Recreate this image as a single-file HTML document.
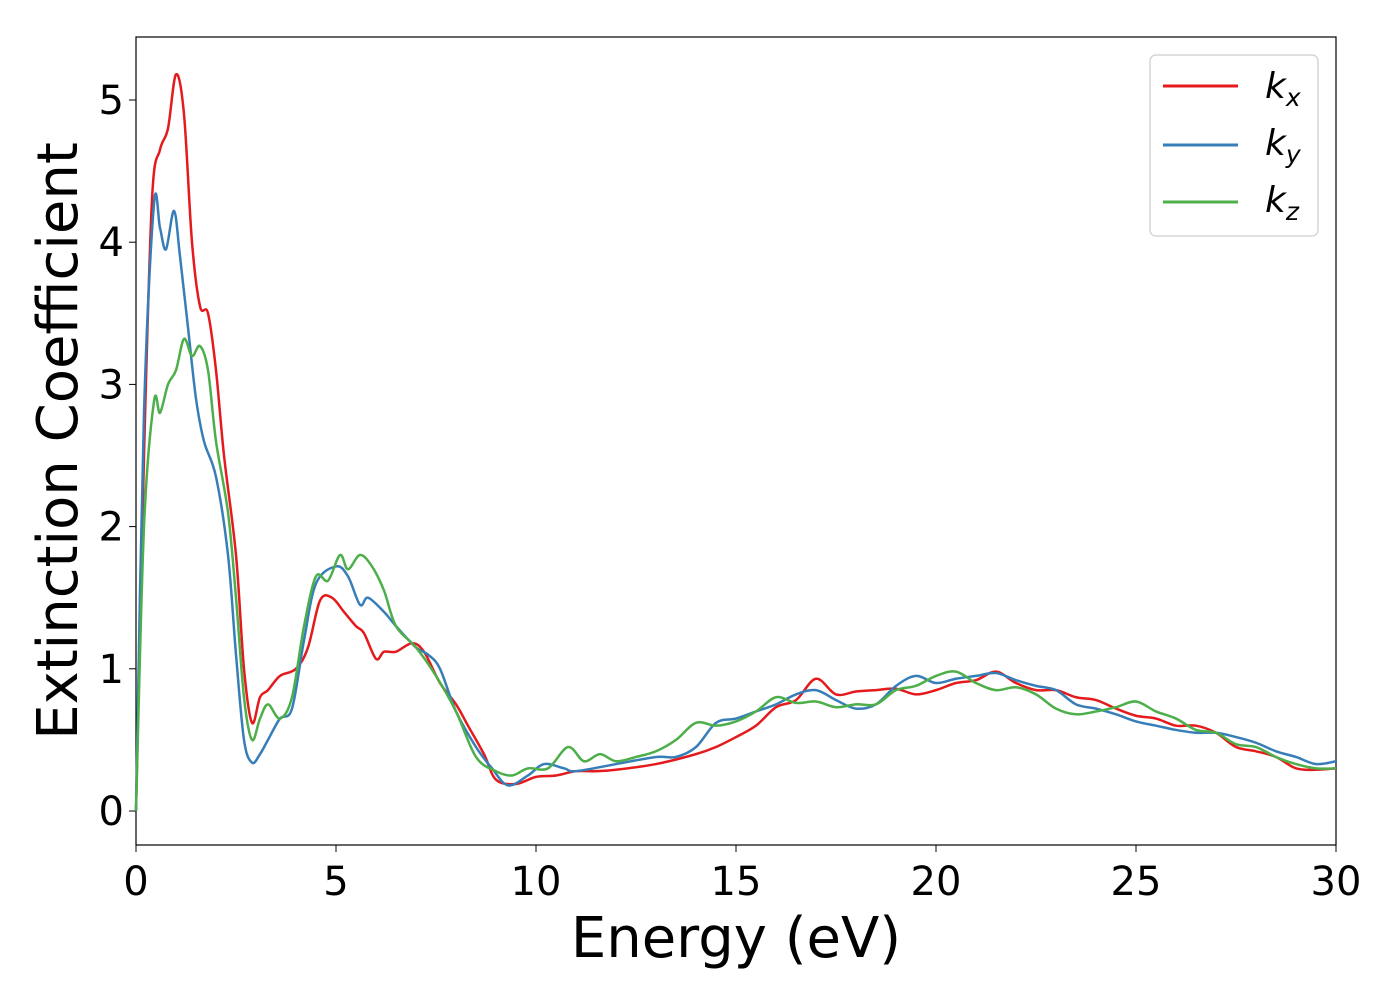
<!DOCTYPE html>
<html><head><meta charset="utf-8"><style>
body{margin:0;background:#fff}
svg{display:block;font-family:"DejaVu Sans","Liberation Sans",sans-serif}
</style></head><body>
<svg id="chart" width="1400" height="1000">
<rect x="136" y="37" width="1200" height="808" fill="#fff" stroke="#000" stroke-width="1.2"/>
<g id="ticks"></g>
<g id="lines"></g>
<text x="736" y="957" font-size="56" text-anchor="middle">Energy (eV)</text>
<text transform="translate(77,441) rotate(-90)" font-size="56" text-anchor="middle">Extinction Coefficient</text>
<g>
<rect x="1150" y="55" width="168" height="181" rx="6" fill="#fff" stroke="#ccc" stroke-width="1.2"/>
<line x1="1163" y1="86" x2="1238" y2="86" stroke="#e41a1c" stroke-width="3"/>
<text x="1265" y="98" font-size="36" font-style="italic">k<tspan font-size="25" dy="8">x</tspan></text>
<line x1="1163" y1="145" x2="1238" y2="145" stroke="#377eb8" stroke-width="3"/>
<text x="1265" y="155" font-size="36" font-style="italic">k<tspan font-size="25" dy="8">y</tspan></text>
<line x1="1163" y1="202" x2="1238" y2="202" stroke="#4daf4a" stroke-width="3"/>
<text x="1265" y="212" font-size="36" font-style="italic">k<tspan font-size="25" dy="8">z</tspan></text>
</g>
</svg>
<script>
const xTicks=[0,5,10,15,20,25,30];
const yTicks=[0,1,2,3,4,5];
const kxE=[0,0.2,0.4,0.6,0.8,1.0,1.2,1.4,1.6,1.8,2.0,2.2,2.5,2.7,2.9,3.1,3.3,3.6,4.0,4.3,4.6,4.9,5.2,5.5,5.7,6.0,6.2,6.5,6.9,7.2,7.6,8.0,8.3,8.7,9.0,9.5,10,10.5,11,11.5,12,13,14,14.5,15,15.5,16,16.5,17,17.5,18,18.5,19,19.5,20,20.5,21,21.5,22,22.5,23,23.5,24,24.5,25,25.5,26,26.5,27,27.5,28,28.5,29,29.5,30];
const kxV=[0,2.5,4.3,4.65,4.8,5.18,4.9,4.0,3.55,3.5,3.1,2.5,1.8,1.0,0.62,0.8,0.85,0.95,1.0,1.15,1.48,1.5,1.4,1.3,1.25,1.07,1.12,1.12,1.18,1.12,0.9,0.75,0.6,0.4,0.22,0.19,0.24,0.25,0.28,0.28,0.29,0.33,0.4,0.45,0.52,0.6,0.73,0.78,0.93,0.82,0.84,0.85,0.86,0.82,0.85,0.9,0.92,0.98,0.9,0.85,0.85,0.8,0.78,0.72,0.67,0.65,0.6,0.6,0.55,0.45,0.42,0.38,0.3,0.29,0.3];
const kyE=[0,0.2,0.45,0.6,0.75,0.95,1.1,1.3,1.5,1.7,2.0,2.3,2.5,2.7,2.9,3.1,3.3,3.6,3.9,4.2,4.5,5.0,5.3,5.6,5.8,6.2,6.5,7,7.3,7.6,8,8.5,8.9,9.3,9.8,10.2,10.7,11,12,13,13.5,14,14.5,15,15.5,16,16.5,17,17.5,18,18.5,19,19.5,20,20.5,21,21.5,22,22.5,23,23.5,24,24.5,25,25.5,26,26.5,27,27.5,28,28.5,29,29.5,30];
const kyV=[0,2.8,4.27,4.1,3.95,4.22,3.9,3.4,2.9,2.6,2.35,1.8,1.1,0.5,0.34,0.4,0.5,0.65,0.72,1.2,1.6,1.72,1.65,1.45,1.5,1.4,1.3,1.15,1.1,1.0,0.7,0.45,0.3,0.18,0.25,0.33,0.3,0.28,0.33,0.38,0.38,0.45,0.62,0.65,0.7,0.75,0.82,0.85,0.78,0.72,0.75,0.88,0.95,0.9,0.93,0.95,0.97,0.92,0.88,0.85,0.75,0.72,0.68,0.63,0.6,0.57,0.55,0.55,0.52,0.48,0.42,0.38,0.33,0.35];
const kzE=[0,0.2,0.45,0.6,0.8,1.0,1.2,1.4,1.6,1.8,2.0,2.3,2.5,2.7,2.9,3.1,3.3,3.6,3.9,4.2,4.5,4.8,5.1,5.3,5.6,5.9,6.2,6.5,7,7.5,8,8.5,9,9.4,9.8,10.3,10.8,11.2,11.6,12,12.5,13,13.5,14,14.5,15,15.5,16,16.5,17,17.5,18,18.5,19,19.5,20,20.5,21,21.5,22,22.5,23,23.5,24,24.5,25,25.5,26,26.5,27,27.5,28,28.5,29,29.5,30];
const kzV=[0,2.0,2.88,2.8,3.0,3.1,3.32,3.2,3.27,3.1,2.6,2.1,1.5,0.8,0.5,0.65,0.75,0.65,0.8,1.3,1.65,1.62,1.8,1.7,1.8,1.72,1.55,1.3,1.15,0.95,0.7,0.38,0.28,0.25,0.3,0.3,0.45,0.35,0.4,0.35,0.38,0.42,0.5,0.62,0.6,0.63,0.7,0.8,0.76,0.77,0.73,0.75,0.75,0.85,0.88,0.95,0.98,0.9,0.85,0.87,0.82,0.72,0.68,0.7,0.73,0.77,0.7,0.65,0.57,0.55,0.47,0.45,0.38,0.33,0.3,0.3];
const X=e=>136+e*40;
const Y=v=>811-v*142.2;
const NS='http://www.w3.org/2000/svg';
const tg=document.getElementById('ticks');
xTicks.forEach(t=>{
 const l=document.createElementNS(NS,'line');
 l.setAttribute('x1',X(t));l.setAttribute('x2',X(t));l.setAttribute('y1',845);l.setAttribute('y2',852);l.setAttribute('stroke','#000');
 
 
 tg.appendChild(l);
 const s=document.createElementNS(NS,'text');
 s.setAttribute('x',X(t));s.setAttribute('y',895);s.setAttribute('font-size','40');s.setAttribute('text-anchor','middle');s.textContent=t;
 
 
 tg.appendChild(s);
});
yTicks.forEach(t=>{
 const l=document.createElementNS(NS,'line');
 l.setAttribute('x1',129);l.setAttribute('x2',136);l.setAttribute('y1',Y(t));l.setAttribute('y2',Y(t));l.setAttribute('stroke','#000');
 
 
 tg.appendChild(l);
 const s=document.createElementNS(NS,'text');
 s.setAttribute('x',124);s.setAttribute('y',Y(t)+14);s.setAttribute('font-size','40');s.setAttribute('text-anchor','end');s.textContent=t;
 
 
 tg.appendChild(s);
});
function path(E,V){
 const p=E.map((e,i)=>[X(e),Y(V[i])]);
 let d='M'+p[0][0]+','+p[0][1];
 for(let i=0;i<p.length-1;i++){
  const p0=p[Math.max(0,i-1)],p1=p[i],p2=p[i+1],p3=p[Math.min(p.length-1,i+2)];
  const c1=[p1[0]+(p2[0]-p0[0])/6,p1[1]+(p2[1]-p0[1])/6];
  const c2=[p2[0]-(p3[0]-p1[0])/6,p2[1]-(p3[1]-p1[1])/6];
  d+=`C${c1[0]},${c1[1]} ${c2[0]},${c2[1]} ${p2[0]},${p2[1]}`;
 }
 return d;
}
const lg=document.getElementById('lines');
[[kxE,kxV,'#e41a1c','series-kx'],[kyE,kyV,'#377eb8','series-ky'],[kzE,kzV,'#4daf4a','series-kz']].forEach(s=>{
 const p=document.createElementNS(NS,'path');
 p.setAttribute('d',path(s[0],s[1]));p.setAttribute('fill','none');p.setAttribute('stroke',s[2]);p.setAttribute('stroke-width','2.5');
 
 
 lg.appendChild(p);
});
</script>
</body></html>
